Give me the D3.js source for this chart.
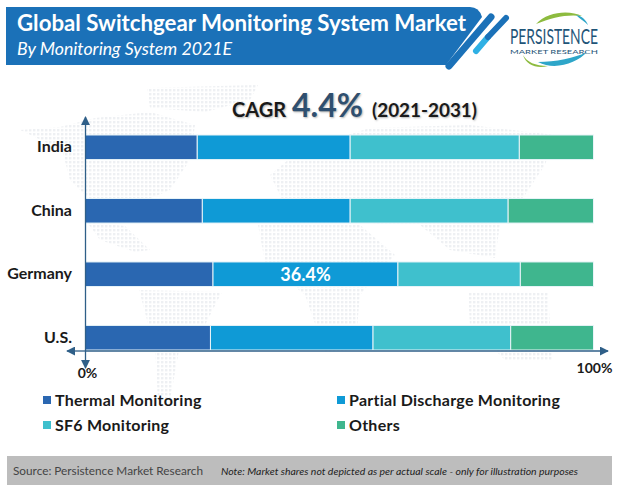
<!DOCTYPE html>
<html>
<head>
<meta charset="utf-8">
<script src="https://cdn.jsdelivr.net/npm/d3@7"></script>
<style>
 html, body { margin: 0; padding: 0; background: #fff; }
 svg { display: block; }
 text { font-family: Lato, "Open Sans", sans-serif; }
</style>
</head>
<body>
<div id="chart"></div>
<script>
const countries = ["India", "China", "Germany", "U.S."];
const seriesNames = ["Thermal Monitoring", "Partial Discharge Monitoring", "SF6 Monitoring", "Others"];
const thermal = [22.0, 23.0, 25.1, 24.6];
const partialDischarge = [30.1, 29.1, 36.4, 32.0];
const sf6 = [33.3, 31.1, 24.1, 27.1];
const others = [14.6, 16.8, 14.4, 16.3];
const seriesColors = ["#2a67b1", "#0f9ad6", "#3fc0cd", "#3fb68e"];
const tickLabels = ["0%", "100%"];

const width = 620;
const height = 485;
const axisColor = "#2f5f88";

const svg = d3.select("#chart").append("svg").attr("width", width).attr("height", height);

// faint dotted world map behind the bars
const defs = svg.append("defs");
defs.append("pattern")
 .attr("id", "dots")
 .attr("width", 4).attr("height", 4)
 .attr("patternUnits", "userSpaceOnUse")
 .append("rect").attr("x", 1).attr("y", 1).attr("width", 2.4).attr("height", 2.4).attr("fill", "#eef0f3");

const land = [
 "M20,130 L60,127 L95,118 L150,112 L195,125 L190,160 L170,190 L135,205 L120,222 L95,205 L70,180 L62,150 Z",
 "M147,88 L258,85 L250,100 L205,112 L150,108 Z",
 "M87,222 L125,226 L150,250 L135,252 L100,240 Z",
 "M139,290 L222,292 L205,325 L180,345 L170,400 L158,400 L155,350 Z",
 "M270,175 L300,150 L370,128 L470,125 L555,135 L545,165 L525,195 L500,225 L495,258 L450,250 L420,225 L380,225 L340,215 L290,215 Z",
 "M258,225 L360,225 L395,255 L360,295 L355,350 L325,352 L305,295 L265,262 Z",
 "M468,292 L548,292 L552,360 L505,360 L470,325 Z"
];

svg.append("g")
 .selectAll("path")
 .data(land)
 .enter()
 .append("path")
 .attr("d", (d) => d)
 .attr("fill", "url(#dots)");

// header banner
svg.append("path")
 .attr("d", "M6,7 L470,7 Q479,7 482,17 L446,65 L6,65 Z")
 .attr("fill", "#1b71b8");
svg.append("path")
 .attr("d", "M449,66 L491,17")
 .attr("fill", "none")
 .attr("stroke", "#1b71b8").attr("stroke-width", 7).attr("stroke-linecap", "round");
svg.append("path")
 .attr("d", "M476,51 L488,37")
 .attr("fill", "none")
 .attr("stroke", "#2fb0e4").attr("stroke-width", 6).attr("stroke-linecap", "round");
svg.append("path")
 .attr("d", "M488,37 L506,18")
 .attr("fill", "none")
 .attr("stroke", "#1b71b8").attr("stroke-width", 6).attr("stroke-linecap", "round");

svg.append("text")
 .attr("x", 17).attr("y", 31)
 .attr("font-size", 23).attr("font-weight", 700).attr("fill", "#fff")
 .attr("textLength", 449).attr("lengthAdjust", "spacingAndGlyphs")
 .text("Global Switchgear Monitoring System Market");
svg.append("text")
 .attr("x", 17).attr("y", 55)
 .attr("font-size", 17).attr("font-style", "italic").attr("fill", "#fff")
 .attr("textLength", 215).attr("lengthAdjust", "spacingAndGlyphs")
 .text("By Monitoring System 2021E");

// logo
svg.append("path")
 .attr("d", "M536,24 C548,11 570,10 582,16 C568,14 552,17 536,24 Z")
 .attr("fill", "#8dbb3f");
svg.append("path")
 .attr("d", "M576,15 C582,16 586,20 588,25 C584,21 580,19 576,15 Z")
 .attr("fill", "#2ea6c9");
svg.append("path")
 .attr("d", "M523,55 C527,62 535,66 548,66 C537,69 526,65 523,55 Z")
 .attr("fill", "#8dbb3f");
svg.append("path")
 .attr("d", "M538,62 C555,62 575,58 587,52 C577,63 555,71 538,62 Z")
 .attr("fill", "#2ea6c9");

// squeeze the logo words to the logo width
function logoText(label, x, y, size, w, family) {
 const t = svg.append("text")
  .attr("font-family", family)
  .attr("font-size", size).attr("fill", "#1f5578")
  .text(label);
 const natural = t.node().getComputedTextLength();
 t.attr("transform", `translate(${x},${y}) scale(${w / natural},1)`);
}
logoText("PERSISTENCE", 510, 44, 21, 88, "'Liberation Sans Narrow', 'Liberation Sans', sans-serif");
logoText("MARKET RESEARCH", 510, 54, 6.5, 88, "'Liberation Sans', sans-serif");

// CAGR
const cagrShadow = "1px 1px 2px #b5b5b5";
svg.append("text")
 .attr("x", 232).attr("y", 117)
 .attr("font-size", 20).attr("font-weight", 700).attr("fill", "#1a1a1a")
 .style("text-shadow", cagrShadow)
 .text("CAGR");
svg.append("text")
 .attr("x", 292).attr("y", 117)
 .attr("font-size", 33).attr("font-weight", 700).attr("fill", "#2f4f6f")
 .attr("textLength", 71).attr("lengthAdjust", "spacingAndGlyphs")
 .style("text-shadow", cagrShadow)
 .text("4.4%");
svg.append("text")
 .attr("x", 372).attr("y", 117)
 .attr("font-size", 19).attr("font-weight", 700).attr("fill", "#1a1a1a")
 .attr("textLength", 105).attr("lengthAdjust", "spacingAndGlyphs")
 .style("text-shadow", cagrShadow)
 .text("(2021-2031)");

// scales
const xScale = d3.scaleLinear().domain([0, 100]).range([85.5, 593.5]);
const yScale = d3.scaleBand().domain(countries).range([135, 350]).paddingInner(0.613);

const rows = countries.map((c, i) => ({
 country: c,
 "Thermal Monitoring": thermal[i],
 "Partial Discharge Monitoring": partialDischarge[i],
 "SF6 Monitoring": sf6[i],
 Others: others[i],
}));
const stacked = d3.stack().keys(seriesNames)(rows);

const layers = svg.selectAll(".layer")
 .data(stacked)
 .enter()
 .append("g")
 .attr("class", "layer")
 .attr("fill", (d, i) => seriesColors[i]);

layers.selectAll("rect")
 .data((d) => d)
 .enter()
 .append("rect")
 .attr("x", (d) => xScale(d[0]))
 .attr("y", (d) => yScale(d.data.country))
 .attr("width", (d) => xScale(d[1]) - xScale(d[0]))
 .attr("height", yScale.bandwidth())
 .attr("stroke", "#e8f4f8")
 .attr("stroke-width", 1);

// value label on Germany
svg.append("text")
 .attr("x", xScale(thermal[2] + partialDischarge[2] / 2))
 .attr("y", yScale("Germany") + yScale.bandwidth() / 2 + 7)
 .attr("text-anchor", "middle")
 .attr("font-size", 18).attr("font-weight", 700).attr("fill", "#fff")
 .text(partialDischarge[2].toFixed(1) + "%");

// category labels
svg.selectAll(".cat")
 .data(countries)
 .enter()
 .append("text")
 .attr("class", "cat")
 .attr("x", 72)
 .attr("y", (d) => yScale(d) + yScale.bandwidth() / 2 + 5)
 .attr("text-anchor", "end")
 .attr("font-size", 16).attr("font-weight", 700).attr("fill", "#1a1a1a")
 .text((d) => d);

// arrows for the axes
defs.append("marker")
 .attr("id", "arrow")
 .attr("viewBox", "0 0 10 10")
 .attr("refX", 9).attr("refY", 5)
 .attr("markerWidth", 9).attr("markerHeight", 9)
 .attr("markerUnits", "userSpaceOnUse")
 .attr("orient", "auto")
 .append("path").attr("d", "M0,0 L10,5 L0,10 Z").attr("fill", axisColor);

const axisY = 351;
const axisLines = [
 [xScale(0), axisY, 608, axisY],
 [xScale(0), axisY, 67, axisY],
 [xScale(0), axisY, xScale(0), 117],
 [xScale(0), axisY, xScale(0), 368],
];
svg.selectAll(".axis-line")
 .data(axisLines)
 .enter()
 .append("line")
 .attr("class", "axis-line")
 .attr("x1", (d) => d[0]).attr("y1", (d) => d[1])
 .attr("x2", (d) => d[2]).attr("y2", (d) => d[3])
 .attr("stroke", axisColor).attr("stroke-width", 1.3)
 .attr("marker-end", "url(#arrow)");

svg.selectAll(".tick-label")
 .data(tickLabels)
 .enter()
 .append("text")
 .attr("class", "tick-label")
 .attr("x", (d, i) => (i === 0 ? xScale(0) + 2 : xScale(100) + 1))
 .attr("y", (d, i) => (i === 0 ? 378 : 373))
 .attr("text-anchor", "middle")
 .attr("font-size", 14).attr("font-weight", 700).attr("fill", "#1a1a1a")
 .text((d) => d);

// legend, two rows of two
const legendX = [43, 337];
const legendY = [400, 425];
const legend = svg.selectAll(".legend")
 .data(seriesNames)
 .enter()
 .append("g")
 .attr("class", "legend")
 .attr("transform", (d, i) => `translate(${legendX[i % 2]},${legendY[Math.floor(i / 2)]})`);
legend.append("rect")
 .attr("y", -4).attr("width", 8).attr("height", 8)
 .attr("fill", (d, i) => seriesColors[i]);
legend.append("text")
 .attr("x", 12).attr("y", 6)
 .attr("font-size", 16).attr("font-weight", 700).attr("fill", "#1a1a1a")
 .attr("letter-spacing", 0.25)
 .text((d) => d);

// footer strip
svg.append("rect")
 .attr("x", 7).attr("y", 456).attr("width", 605).attr("height", 29)
 .attr("fill", "#bdbdbd");
svg.append("text")
 .attr("x", 13).attr("y", 475)
 .attr("font-size", 12).attr("fill", "#444")
 .attr("textLength", 190).attr("lengthAdjust", "spacingAndGlyphs")
 .text("Source: Persistence Market Research");
svg.append("text")
 .attr("x", 221).attr("y", 475)
 .attr("font-size", 10).attr("font-style", "italic").attr("fill", "#222")
 .attr("textLength", 357).attr("lengthAdjust", "spacingAndGlyphs")
 .text("Note: Market shares not depicted as per actual scale - only for illustration purposes");
</script>
</body>
</html>
